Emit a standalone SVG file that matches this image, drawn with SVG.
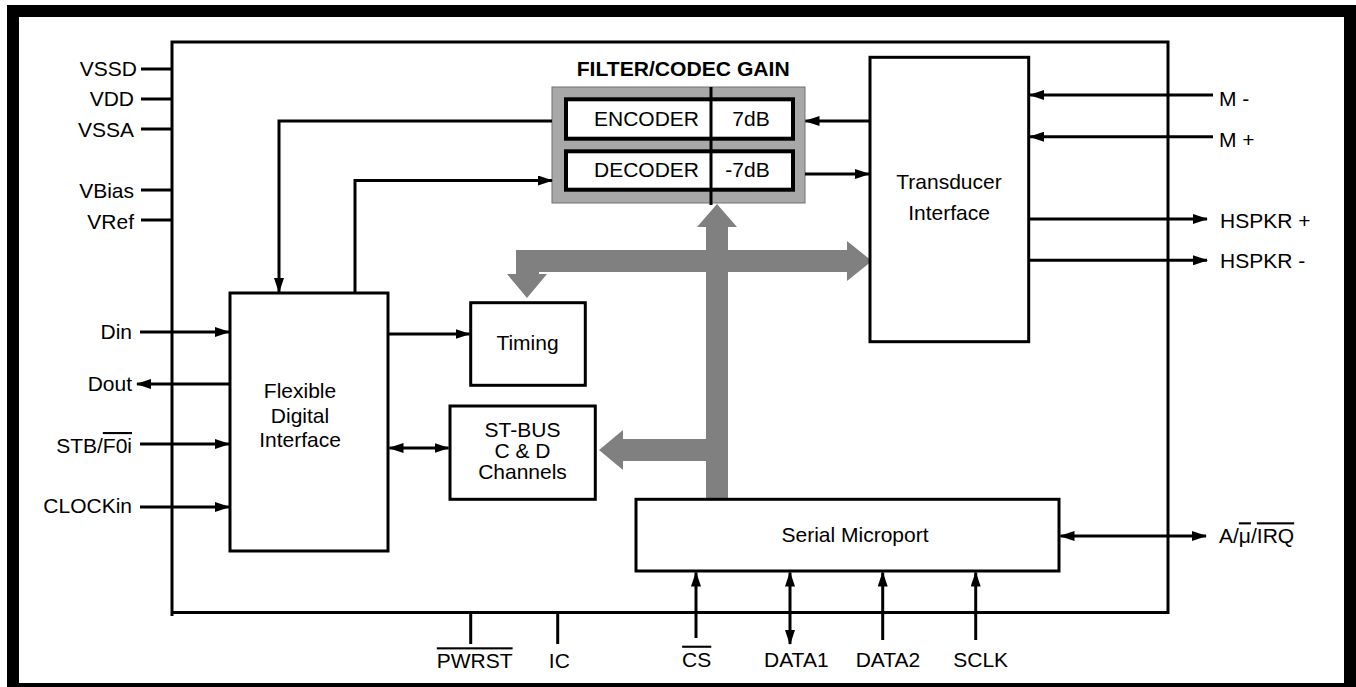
<svg xmlns="http://www.w3.org/2000/svg" width="1356" height="687" viewBox="0 0 1356 687">
<style>
text{font-family:"Liberation Sans",Arial,sans-serif;font-size:21px;fill:#000}
.box{fill:#fff;stroke:#000;stroke-width:3}
.w{fill:none;stroke:#000;stroke-width:3}
.a{fill:none;stroke:#000;stroke-width:3;marker-end:url(#ah)}
.d{fill:none;stroke:#000;stroke-width:3;marker-end:url(#ah);marker-start:url(#ah)}
.m{text-anchor:middle}
.e{text-anchor:end}
.ov{text-decoration:overline}
</style>
<defs>
<marker id="ah" markerUnits="userSpaceOnUse" viewBox="0 0 15 10" markerWidth="15" markerHeight="10" refX="14" refY="5" orient="auto-start-reverse">
<path d="M0,0 L15,5 L0,10 Z" fill="#000"/>
</marker>
</defs>
<rect x="0" y="0" width="1356" height="687" fill="#fff"/>
<rect id="frame" x="13" y="11" width="1337" height="678" fill="none" stroke="#000" stroke-width="12"/>
<g id="chip">
<path class="w" d="M172,616 V42 H1168 V612.5 H172"/>
</g>
<g id="filter-codec">
<text x="576.7" y="76" font-weight="bold" font-size="18" textLength="213" lengthAdjust="spacingAndGlyphs">FILTER/CODEC GAIN</text>
<rect x="552" y="87" width="253" height="116" fill="#a8a8a8" stroke="#707070" stroke-width="1"/>
<rect x="566" y="99.3" width="227" height="39.4" fill="#fff" stroke="#000" stroke-width="4"/>
<rect x="566" y="151.3" width="227" height="38.4" fill="#fff" stroke="#000" stroke-width="4"/>
<line x1="711" y1="87" x2="711" y2="205" stroke="#000" stroke-width="3"/>
<text x="594" y="126">ENCODER</text>
<text x="751" y="126" class="m">7dB</text>
<text x="594" y="176.7">DECODER</text>
<text x="747.5" y="176.7" class="m">-7dB</text>
</g>
<g id="bus">
<path fill="#808080" d="M717,204 L737,227 L728,227 L728,250 L847,250 L847,241 L872,261 L847,281 L847,272 L728,272 L728,499 L706,499 L706,461 L623,461 L623,470 L599,450 L623,430 L623,439 L706,439 L706,272 L539,272 L539,274 L547,274 L527,298 L507,274 L516,274 L516,250 L706,250 L706,227 L697,227 Z"/>
</g>
<g id="transducer">
<rect class="box" x="870" y="57.3" width="158.7" height="284.4"/>
<text x="949" y="189.3" class="m">Transducer</text>
<text x="949" y="220" class="m">Interface</text>
</g>
<g id="fdi">
<rect class="box" x="230" y="293" width="158" height="258"/>
<text x="300" y="398.3" class="m">Flexible</text>
<text x="300" y="422.7" class="m">Digital</text>
<text x="300" y="446.7" class="m">Interface</text>
</g>
<g id="timing">
<rect class="box" x="470.7" y="302.7" width="114.6" height="82.6"/>
<text x="527.5" y="350" class="m">Timing</text>
</g>
<g id="stbus">
<rect class="box" x="450" y="406" width="145.3" height="93.3"/>
<text x="522.5" y="437.3" class="m">ST-BUS</text>
<text x="522.5" y="458.3" class="m">C &amp; D</text>
<text x="522.5" y="479.3" class="m">Channels</text>
</g>
<g id="microport">
<rect class="box" x="636" y="499.3" width="423" height="71.7"/>
<text x="855" y="542.3" class="m">Serial Microport</text>
</g>
<g id="connectors">
<line class="w" x1="141" y1="69" x2="172" y2="69"/>
<line class="w" x1="141" y1="99" x2="172" y2="99"/>
<line class="w" x1="141" y1="129" x2="172" y2="129"/>
<line class="w" x1="141" y1="190" x2="172" y2="190"/>
<line class="w" x1="141" y1="220" x2="172" y2="220"/>
<path class="a" d="M140,332 H229"/>
<path class="a" d="M230,384 H137"/>
<path class="a" d="M140,444 H229"/>
<path class="a" d="M140,507 H229"/>
<path class="a" d="M552,121 H279 V292"/>
<path class="a" d="M355,293 V180.5 H552"/>
<path class="a" d="M870,121 H805.5"/>
<path class="a" d="M805,174 H869"/>
<path class="a" d="M388,334 H469.5"/>
<path class="d" d="M389.5,448 H448.5"/>
<path class="a" d="M1213,95 H1030"/>
<path class="a" d="M1213,136.7 H1030"/>
<path class="a" d="M1029,219 H1207"/>
<path class="a" d="M1029,260.3 H1207"/>
<path class="d" d="M1060.5,536 H1206"/>
<line class="w" x1="470.7" y1="612" x2="470.7" y2="644"/>
<line class="w" x1="557.7" y1="612" x2="557.7" y2="644"/>
<path class="a" d="M696,638 V572.5"/>
<path class="d" d="M790,644 V572.5"/>
<path class="a" d="M882.7,640 V572.5"/>
<path class="a" d="M975.7,640 V572.5"/>
</g>
<g id="pin-labels">
<text x="137" y="76" class="e">VSSD</text>
<text x="134" y="106" class="e">VDD</text>
<text x="134" y="136.7" class="e">VSSA</text>
<text x="134" y="197.7" class="e">VBias</text>
<text x="134" y="229" class="e">VRef</text>
<text x="132" y="339" class="e">Din</text>
<text x="132" y="391" class="e">Dout</text>
<text x="132" y="453" class="e">STB/<tspan class="ov">F0i</tspan></text>
<text x="132" y="513.3" class="e">CLOCKin</text>
<text x="1219" y="105.7">M -</text>
<text x="1219" y="146.7">M +</text>
<text x="1220" y="228.3">HSPKR +</text>
<text x="1220" y="268.3">HSPKR -</text>
<text x="1219" y="543.3">A/<tspan class="ov">μ</tspan>/<tspan class="ov">IRQ</tspan></text>
<text x="474.7" y="668.3" class="m ov">PWRST</text>
<text x="559.3" y="668.3" class="m">IC</text>
<text x="696.7" y="666.7" class="m ov">CS</text>
<text x="796.3" y="666.7" class="m">DATA1</text>
<text x="888" y="666.7" class="m">DATA2</text>
<text x="980.7" y="666.7" class="m">SCLK</text>
</g>
</svg>
